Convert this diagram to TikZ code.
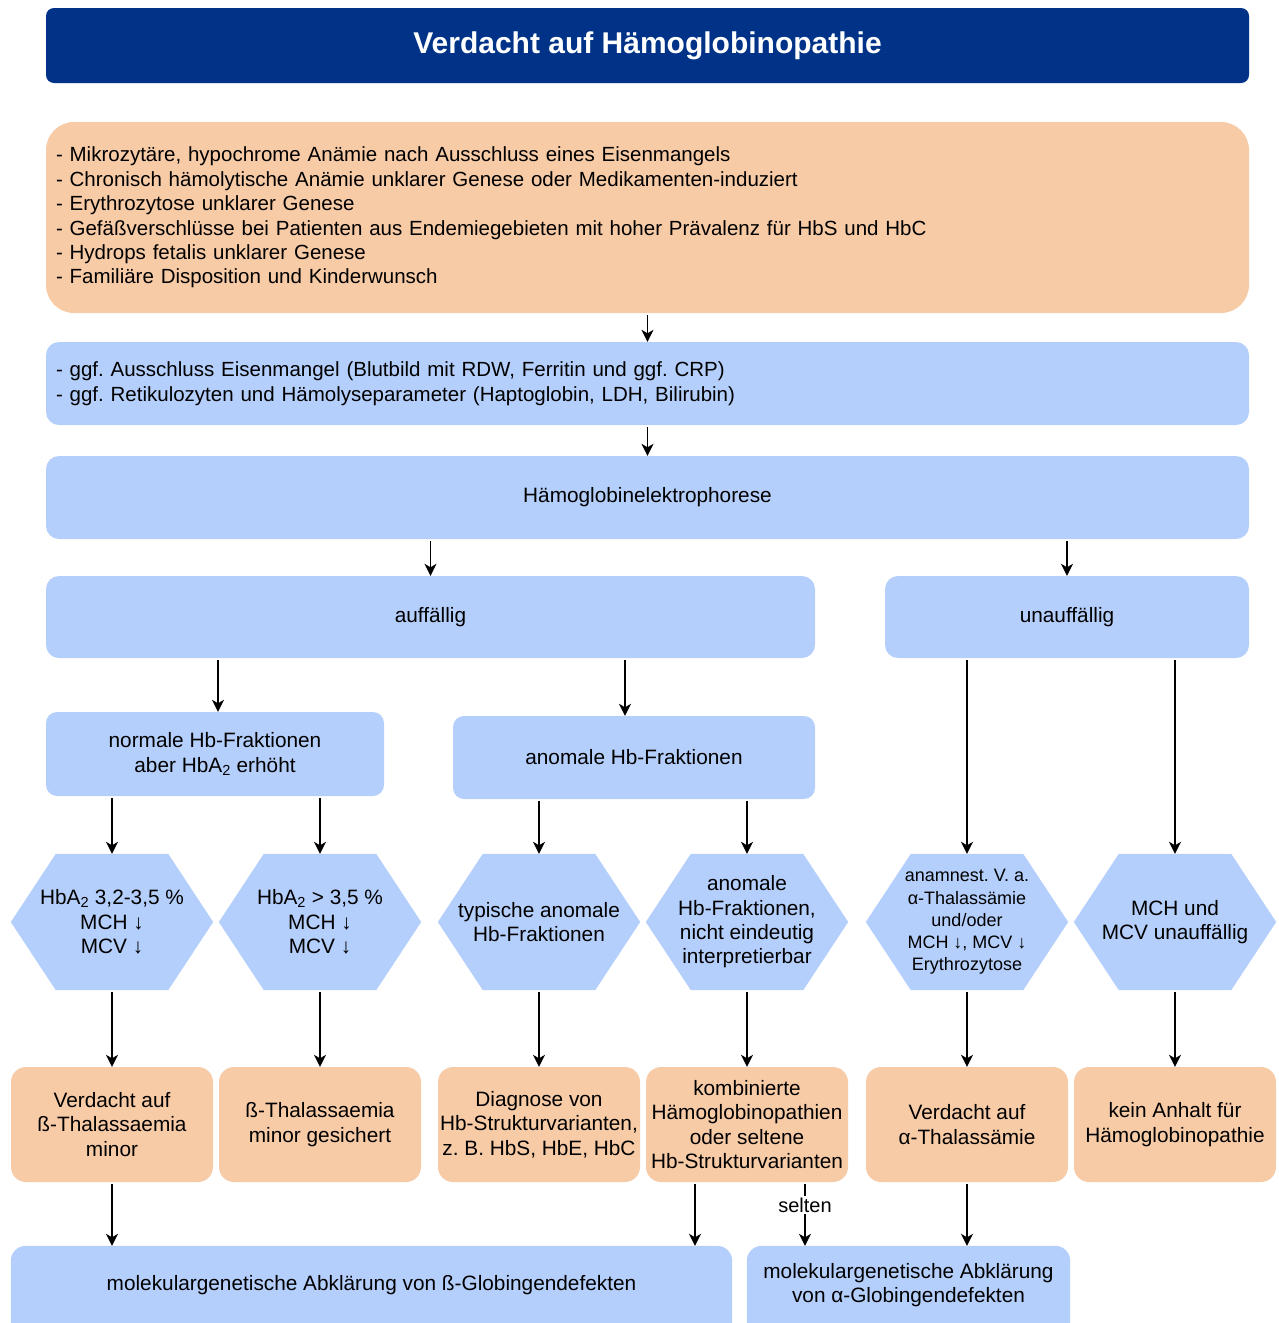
\documentclass[tikz,border=0pt]{standalone}
\usepackage{fontspec}
\setmainfont{Liberation Sans}
\usetikzlibrary{arrows.meta,backgrounds,calc}
\definecolor{titleblue}{RGB}{0,51,136}
\definecolor{boxorange}{RGB}{248,203,167}
\definecolor{boxblue}{RGB}{181,207,252}
\frenchspacing

\begin{document}
\begin{tikzpicture}[x=1pt,y=-1pt,
  base/.style={inner sep=0pt, align=center, font=\fontsize{20.8}{24.4}\selectfont},
  bluebox/.style={base, fill=boxblue, rounded corners=13pt},
  orangebox/.style={base, fill=boxorange, rounded corners=15pt},
  listbox/.style={inner xsep=10pt, inner ysep=0pt, text width=1183pt, align=left,
    font=\fontsize{20.5}{24.4}\selectfont, minimum width=1203pt},
  hexbox/.style={base, minimum width=202pt, minimum height=136pt},
  resbox/.style={orangebox, minimum width=202pt, minimum height=115pt},
  arr/.style={-{Stealth[length=12pt,width=12pt,inset=3.5pt]}, line width=1.4pt, shorten <=2pt},
]
\useasboundingbox (0,0) rectangle (1279,1323);
\clip (0,0) rectangle (1279,1323);

% header
\node[base, fill=titleblue, text=white, rounded corners=8pt, minimum width=1203pt,
  minimum height=75pt, font=\fontsize{30}{36}\selectfont\bfseries]
  (title) at (647.5,45.5) {Verdacht auf Hämoglobinopathie};

% indications
\node[listbox, fill=boxorange, rounded corners=28pt, minimum height=191pt]
  (indik) at (647.5,217.5) {- Mikrozytäre, hypochrome Anämie nach Ausschluss eines Eisenmangels\\
- Chronisch hämolytische Anämie unklarer Genese oder Medikamenten-induziert\\
- Erythrozytose unklarer Genese\\
- Gefäßverschlüsse bei Patienten aus Endemiegebieten mit hoher Prävalenz für HbS und HbC\\
- Hydrops fetalis unklarer Genese\\
- Familiäre Disposition und Kinderwunsch};

% preliminary tests
\node[listbox, fill=boxblue, rounded corners=13pt, minimum height=83pt]
  (vortest) at (647.5,383.5) {- ggf. Ausschluss Eisenmangel (Blutbild mit RDW, Ferritin und ggf. CRP)\\
- ggf. Retikulozyten und Hämolyseparameter (Haptoglobin, LDH, Bilirubin)};

\node[bluebox, minimum width=1203pt, minimum height=83pt] (hbe) at (647.5,497.5) {Hämoglobinelektrophorese};

\node[bluebox, minimum width=769pt, minimum height=82pt] (auff) at (430.5,617) {auffällig};
\node[bluebox, minimum width=364pt, minimum height=82pt] (unauff) at (1067,617) {unauffällig};

\node[bluebox, rounded corners=11pt, minimum width=338pt, minimum height=84pt] (normal) at (215,754)
  {normale Hb-Fraktionen\\aber HbA\textsubscript{2} erhöht};
\node[bluebox, rounded corners=11pt, minimum width=362pt, minimum height=83pt] (anomal) at (634,757.5)
  {anomale Hb-Fraktionen};

% decision hexagons
\node[hexbox] (h1) at (112,922) {HbA\textsubscript{2} 3,2-3,5 \%\\MCH ↓\\MCV ↓};
\node[hexbox] (h2) at (320,922) {HbA\textsubscript{2} > 3,5 \%\\MCH ↓\\MCV ↓};
\node[hexbox] (h3) at (539,922) {typische anomale\\Hb-Fraktionen};
\node[hexbox] (h4) at (747,922) {anomale\\Hb-Fraktionen,\\nicht eindeutig\\interpretierbar};
\node[hexbox, font=\fontsize{18}{22.2}\selectfont] (h5) at (967,922)
  {anamnest. V. a.\\α-Thalassämie\\und/oder\\MCH ↓, MCV ↓\\Erythrozytose};
\node[hexbox] (h6) at (1175,922) {MCH und\\MCV unauffällig};

\begin{scope}[on background layer]
  \foreach \n in {h1,h2,h3,h4,h5,h6}
    \fill[boxblue] (\n.west) -- ([xshift=45pt]\n.north west) -- ([xshift=-45pt]\n.north east)
      -- (\n.east) -- ([xshift=-45pt]\n.south east) -- ([xshift=45pt]\n.south west) -- cycle;
\end{scope}

% results
\node[resbox] (r1) at (112,1124.5) {Verdacht auf\\ß-Thalassaemia\\minor};
\node[resbox] (r2) at (320,1124.5) {ß-Thalassaemia\\minor gesichert};
\node[resbox] (r3) at (539,1124.5) {Diagnose von\\Hb-Strukturvarianten,\\z. B. HbS, HbE, HbC};
\node[resbox] (r4) at (747,1124.5) {kombinierte\\Hämoglobinopathien\\oder seltene\\Hb-Strukturvarianten};
\node[resbox] (r5) at (967,1124.5) {Verdacht auf\\α-Thalassämie};
\node[resbox] (r6) at (1175,1124.5) {kein Anhalt für\\Hämoglobinopathie};

% molecular genetics
\node[base, minimum width=721pt, minimum height=78pt] (beta) at (371.5,1285)
  {molekulargenetische Abklärung von ß-Globingendefekten};
\node[base, minimum width=323pt, minimum height=78pt] (alpha) at (908.5,1285)
  {molekulargenetische Abklärung\\von α-Globingendefekten};
\begin{scope}[on background layer]
  \fill[boxblue, rounded corners=15pt] (beta.north west) rectangle ([yshift=-40pt]beta.south east);
  \fill[boxblue, rounded corners=15pt] (alpha.north west) rectangle ([yshift=-40pt]alpha.south east);
\end{scope}

% connectors
\draw[arr] (indik.south) -- (vortest.north);
\draw[arr] (vortest.south) -- (hbe.north);
\draw[arr] (hbe.south -| auff.north) -- (auff.north);
\draw[arr] (hbe.south -| unauff.north) -- (unauff.north);

\coordinate (c1) at ($(normal.north)+(3,0)$);
\draw[arr] (auff.south -| c1) -- (c1);
\coordinate (c2) at ($(anomal.north)+(-9,0)$);
\draw[arr] (auff.south -| c2) -- (c2);

\draw[arr] (normal.south -| h1.north) -- (h1.north);
\draw[arr] (normal.south -| h2.north) -- (h2.north);
\draw[arr] (anomal.south -| h3.north) -- (h3.north);
\draw[arr] (anomal.south -| h4.north) -- (h4.north);
\draw[arr] (unauff.south -| h5.north) -- (h5.north);
\draw[arr] (unauff.south -| h6.north) -- (h6.north);

\foreach \i in {1,...,6}
  \draw[arr] (h\i.south) -- (r\i.north);

\draw[arr] (r1.south) -- (r1.south |- beta.north);
\coordinate (c3) at ($(r4.south)+(-52,0)$);
\draw[arr] (c3) -- (c3 |- beta.north);
\coordinate (c4) at ($(r4.south)+(58,0)$);
\draw[arr] (c4) -- node[pos=0.36, fill=white, inner xsep=1pt, inner ysep=2pt,
  font=\fontsize{20}{24}\selectfont] {selten} (c4 |- alpha.north);
\draw[arr] (r5.south) -- (r5.south |- alpha.north);
\end{tikzpicture}
\end{document}
